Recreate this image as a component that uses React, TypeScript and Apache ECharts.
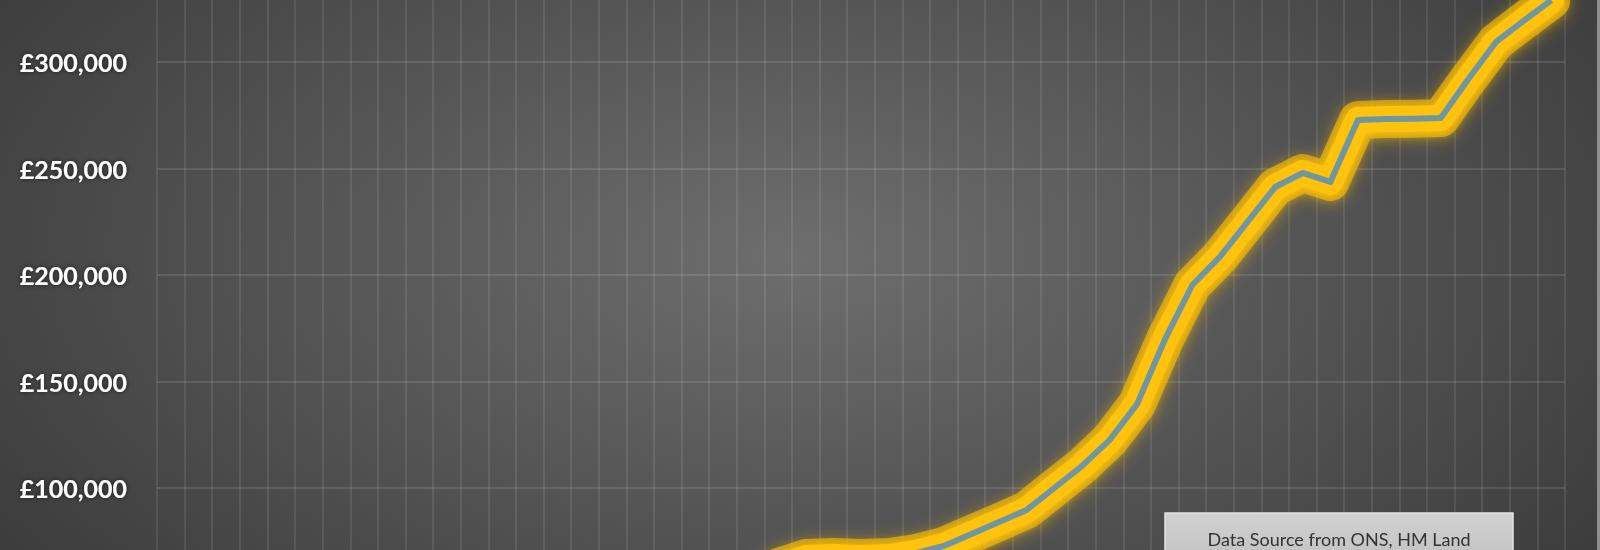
import React, { useEffect, useRef } from "react";
import * as echarts from "echarts";

const years = [
  "1967", "1968", "1969", "1970", "1971", "1972", "1973", "1974", "1975", "1976",
  "1977", "1978", "1979", "1980", "1981", "1982", "1983", "1984", "1985", "1986",
  "1987", "1988", "1989", "1990", "1991", "1992", "1993", "1994", "1995", "1996",
  "1997", "1998", "1999", "2000", "2001", "2002", "2003", "2004", "2005", "2006",
  "2007", "2008", "2009", "2010", "2011", "2012", "2013", "2014", "2015", "2016",
  "2017",
];

const averagePrice = [
  3800, 4000, 4300, 4600, 5300, 7400, 9900, 10800, 11700, 12700,
  13800, 16000, 20000, 23500, 24200, 25000, 28000, 31000, 33500, 38000,
  44000, 52000, 62900, 67100, 67600, 67100, 67600, 69500, 72800, 78400,
  84000, 89700, 100000, 110300, 122500, 139400, 169500, 195300, 208500, 224900,
  241300, 247900, 243700, 272800, 273200, 273400, 273700, 292000, 309400, 319300,
  329000,
];

const yTicks = { min: 0, max: 350000, interval: 50000 };
// tick labels that fall inside the visible window
const visibleLabelRange = { from: 100000, to: 300000 };
const sourceNote = "Data Source from ONS, HM Land";

// the visible 1600x550 window shows a part of a taller chart
const OFFSET_TOP = 100;
const FULL_HEIGHT = 850;

export default function App() {
  const ref = useRef<HTMLDivElement>(null);

  useEffect(() => {
    if (!ref.current) return;
    const chart = echarts.init(ref.current, null, { renderer: "svg" });
    const option = {
      animation: false,
      backgroundColor: {
        type: "radial",
        x: 0.5,
        y: 0.42,
        r: 0.72,
        colorStops: [
          { offset: 0, color: "#6e6e6e" },
          { offset: 1, color: "#333333" },
        ],
      },
      grid: { left: 157, right: 35, top: 55.5, bottom: 49 },
      xAxis: {
        type: "category",
        data: years,
        boundaryGap: true,
        axisLine: { show: false },
        axisTick: { show: false },
        axisLabel: { show: false },
        splitLine: {
          show: true,
          interval: 0,
          lineStyle: { color: "rgba(255,255,255,0.13)", width: 1.5 },
        },
      },
      yAxis: {
        type: "value",
        min: yTicks.min,
        max: yTicks.max,
        interval: yTicks.interval,
        axisLine: { show: false },
        axisTick: { show: false },
        axisLabel: {
          margin: 30,
          color: "#ffffff",
          fontWeight: "bold",
          fontSize: 25,
          fontFamily: "Lato",
          textShadowColor: "rgba(0,0,0,0.6)",
          textShadowBlur: 5,
          formatter: (v: number) =>
            v < visibleLabelRange.from || v > visibleLabelRange.to
              ? ""
              : "£" + v.toLocaleString("en-GB"),
        },
        splitLine: {
          show: true,
          lineStyle: { color: "rgba(255,255,255,0.15)", width: 1.5 },
        },
      },
      series: [
        {
          type: "line",
          data: averagePrice,
          symbol: "none",
          silent: true,
          lineStyle: {
            color: "rgba(255,192,0,0.6)",
            width: 38,
            join: "round",
            cap: "round",
            shadowColor: "rgba(255,192,0,0.7)",
            shadowBlur: 16,
            shadowOffsetY: 2,
          },
          z: 1,
        },
        {
          type: "line",
          data: averagePrice,
          symbol: "none",
          silent: true,
          lineStyle: {
            color: "#FFC20E",
            width: 26,
            join: "round",
            cap: "round",
            shadowColor: "#FFC20E",
            shadowBlur: 10,
            shadowOffsetY: 2,
          },
          z: 2,
        },
        {
          type: "line",
          data: averagePrice,
          symbol: "none",
          silent: true,
          lineStyle: { color: "#7097A0", width: 6, join: "round" },
          z: 3,
        },
      ],
      graphic: [
        {
          type: "rect",
          shape: { x: 1165, y: 513 + OFFSET_TOP, width: 348, height: 60 },
          style: {
            fill: {
              type: "linear",
              x: 0,
              y: 0,
              x2: 0,
              y2: 1,
              colorStops: [
                { offset: 0, color: "#d2d2d2" },
                { offset: 1, color: "#bdbdbd" },
              ],
            },
            stroke: "#e4e4e4",
            lineWidth: 1.5,
          },
          z: 10,
        },
        {
          type: "text",
          x: 1339,
          y: 539 + OFFSET_TOP,
          style: {
            text: sourceNote,
            fill: "#333333",
            fontSize: 18,
            fontFamily: "Lato",
            align: "center",
            verticalAlign: "middle",
          },
          z: 11,
        },
        {
          type: "rect",
          shape: { x: 1597, y: OFFSET_TOP, width: 3, height: 550 },
          style: { fill: "#8e8e8e" },
          z: 10,
        },
      ],
    };
    chart.setOption(option as any);
    return () => chart.dispose();
  }, []);

  return (
    <div
      style={{
        position: "fixed",
        left: 0,
        top: 0,
        width: 1600,
        height: 550,
        overflow: "hidden",
      }}
    >
      <div
        ref={ref}
        style={{
          position: "absolute",
          left: 0,
          top: -OFFSET_TOP,
          width: 1600,
          height: FULL_HEIGHT,
        }}
      />
    </div>
  );
}
